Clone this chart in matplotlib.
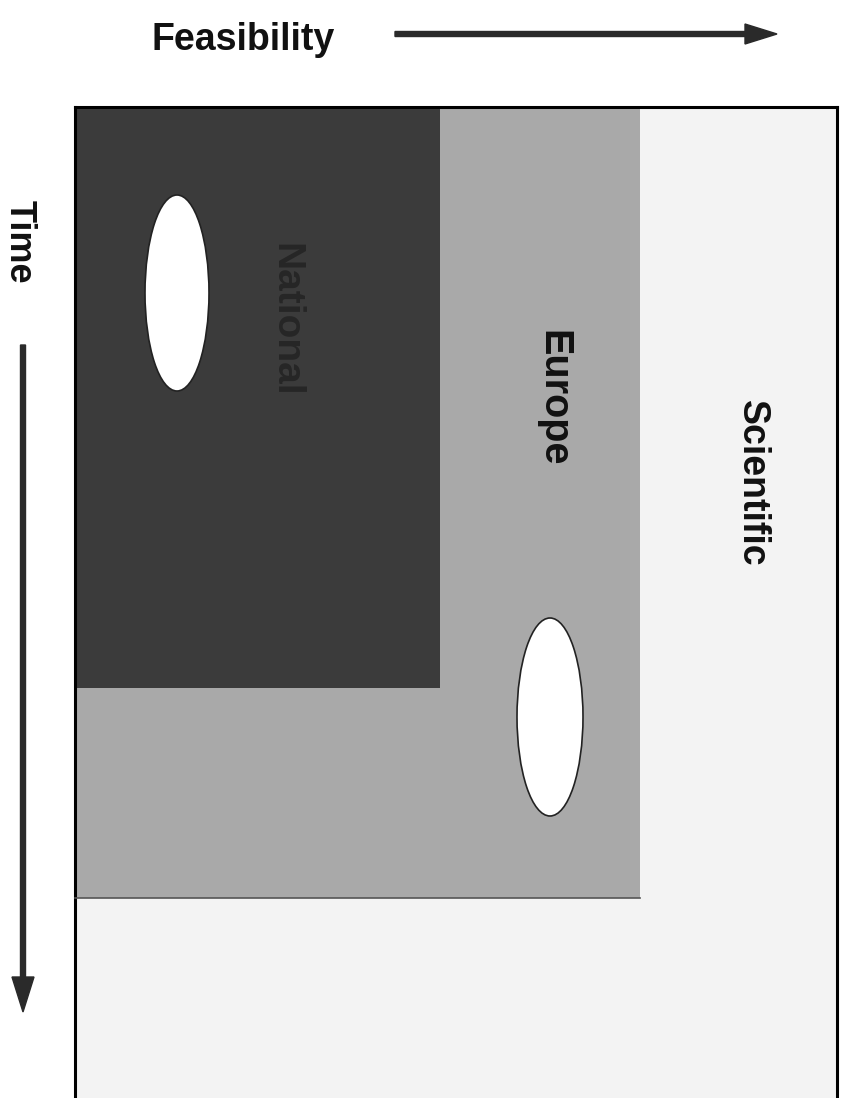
import matplotlib
matplotlib.use("Agg")
import matplotlib.pyplot as plt
from matplotlib.patches import Rectangle, Ellipse, FancyArrow

plt.rcParams['font.family'] = ['Liberation Sans', 'DejaVu Sans']

# nested regions (pixel units of the page: left, top, right, bottom)
regions = ['Scientific', 'Europe', 'National']
region_left = [75, 75, 75]
region_top = [107, 107, 107]
region_right = [837, 640, 440]
region_bottom = [1110, 898, 688]
region_colors = ['#f3f3f3', '#a9a9a9', '#3b3b3b']
label_x = [752, 553, 285]
label_y = [483, 398, 320]
label_sizes = [27, 28.5, 28]
label_colors = ['#111111', '#111111', '#262626']

# white ovals inside the regions
oval_x = [177, 550]
oval_y = [293, 717]
oval_w = [64, 66]
oval_h = [196, 198]

fig = plt.figure(figsize=(8.45, 10.98), dpi=100)
ax = fig.add_axes([0, 0, 1, 1])
ax.set_xlim(0, 845)
ax.set_ylim(1098, 0)
ax.axis('off')

for i in range(len(regions)):
    w = region_right[i] - region_left[i]
    h = region_bottom[i] - region_top[i]
    ax.add_patch(Rectangle((region_left[i], region_top[i]), w, h,
                           facecolor=region_colors[i], edgecolor='none'))
    ax.text(label_x[i], label_y[i], regions[i], rotation=-90, ha='center', va='center',
            fontsize=label_sizes[i], fontweight='bold', color=label_colors[i])

# outer frame (bottom runs off the page)
ax.plot([region_left[0], region_left[0]], [region_bottom[0], region_top[0]], color='black', lw=2.2)
ax.plot([region_left[0], region_right[0]], [region_top[0], region_top[0]], color='black', lw=2.2)
ax.plot([region_right[0], region_right[0]], [region_top[0], region_bottom[0]], color='black', lw=2.2)
ax.plot([region_left[1], region_right[1]], [region_bottom[1], region_bottom[1]], color='#555555', lw=1.2)

for i in range(len(oval_x)):
    ax.add_patch(Ellipse((oval_x[i], oval_y[i]), oval_w[i], oval_h[i],
                         facecolor='white', edgecolor='#222222', lw=1.2))

# axis titles and arrows
ax.text(152, 40, 'Feasibility', ha='left', va='center', fontsize=27,
        fontweight='bold', color='#111111')
ax.add_patch(FancyArrow(395, 34, 350, 0, width=5, head_width=20, head_length=32,
                        length_includes_head=False, color='#2a2a2a'))

ax.text(19, 242, 'Time', rotation=-90, ha='center', va='center', fontsize=26,
        fontweight='bold', color='#111111')
ax.add_patch(FancyArrow(23, 345, 0, 632, width=5, head_width=22, head_length=35,
                        length_includes_head=False, color='#2a2a2a'))

fig.savefig('out.png', dpi=100)
